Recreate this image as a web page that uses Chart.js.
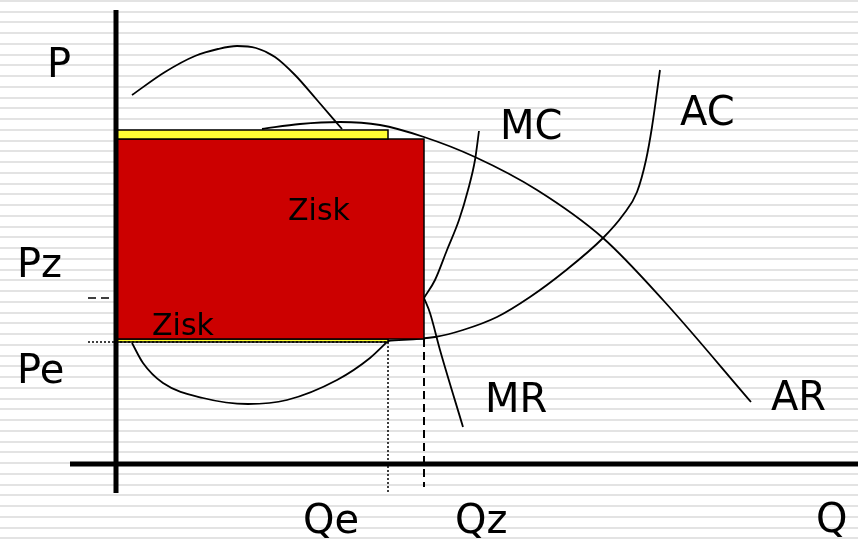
<!DOCTYPE html>
<html>
<head>
<meta charset="utf-8">
<script src="https://cdn.jsdelivr.net/npm/chart.js@4/dist/chart.umd.min.js"></script>
<style>
    body { margin: 0; }
    .board {
        width: 858px;
        height: 539px;
        position: relative;
        background: repeating-linear-gradient(to bottom, #e3e3e3 0px, #e3e3e3 2px, #ffffff 2px, #ffffff 10.75px);
    }
</style>
</head>
<body>
<div class="board"><canvas id="firm-chart"></canvas></div>
<script>
// Quantities and prices (same units on both axes, origin at the axes cross)
const qe = 272;
const qz = 308;
const pe = 122;
const pz = 166;
const redBox = [125, 325];        // Zisk box, bottom and top price
const yellowTop = [325, 334];
const yellowBottom = [122, 125];

// Curves as [Q, P]
const curveAR = [[146, 335], [184, 340], [224, 342], [264, 339], [308, 327], [359, 307], [421, 274],
    [487, 226], [547, 164], [635, 62]];
const curveMC = [[363, 333], [359, 304], [352, 274], [343, 244], [331, 214], [319, 184], [308, 166]];
const curveMR = [[308, 166], [314, 151], [324, 114], [347, 37]];
const curveAC = [[272, 123], [319, 127], [347, 134], [381, 147], [414, 167], [449, 193], [487, 226],
    [507, 249], [521, 272], [530, 304], [536, 337], [544, 394]];
const curveHump = [[16, 369], [49, 392], [79, 408], [102, 415], [121, 418], [140, 416], [159, 407],
    [179, 389], [201, 364], [226, 335]];
const curveBowl = [[16, 121], [27, 101], [47, 81], [87, 66], [132, 60], [171, 64], [221, 84], [254, 106], [273, 124]];

// Text labels: text, Q, P
const bigLabels = [
    ['P', -69, 387], ['MC', 384, 325], ['AC', 564, 339], ['Pz', -99, 187], ['Pe', -99, 81],
    ['MR', 369, 52], ['AR', 655, 54], ['Qe', 187, -69], ['Qz', 339, -69], ['Q', 700, -68]
];
const smallLabels = [['Zisk', 172, 244], ['Zisk', 36, 129]];

function pts(list) {
    return list.map(([x, y]) => ({x: x, y: y}));
}

function curve(list) {
    return {
        data: pts(list),
        borderColor: '#000',
        borderWidth: 1.8,
        pointRadius: 0,
        cubicInterpolationMode: 'monotone',
        fill: false,
        order: 3
    };
}

function box(x0, x1, [y0, y1], color) {
    return {
        data: pts([[x0, y0], [x1, y0], [x1, y1], [x0, y1], [x0, y0]]),
        borderColor: '#000',
        borderWidth: 1.5,
        backgroundColor: color,
        pointRadius: 0,
        tension: 0,
        fill: 'shape',
        order: 2
    };
}

function guide(list, width, dash) {
    return {
        data: pts(list),
        borderColor: '#000',
        borderWidth: width,
        borderDash: dash,
        pointRadius: 0,
        tension: 0,
        fill: false,
        order: 1
    };
}

const textPlugin = {
    id: 'texts',
    afterDatasetsDraw(chart) {
        const c = chart.ctx;
        const sx = chart.scales.x, sy = chart.scales.y;
        c.save();
        c.fillStyle = '#000';
        c.textAlign = 'left';
        c.textBaseline = 'alphabetic';
        c.font = '40px "DejaVu Sans"';
        bigLabels.forEach(([t, x, y]) => c.fillText(t, sx.getPixelForValue(x), sy.getPixelForValue(y)));
        c.font = '30px "DejaVu Sans"';
        smallLabels.forEach(([t, x, y]) => c.fillText(t, sx.getPixelForValue(x), sy.getPixelForValue(y)));
        c.restore();
    }
};

let ctx = document.querySelector('#firm-chart').getContext('2d');

let firmChart = new Chart(ctx, {
    type: 'line',
    data: {
        datasets: [
            // axes
            guide([[0, 454], [0, -29]], 5, []),
            guide([[-46, 0], [742, 0]], 5, []),
            // helper lines
            guide([[-28, pz], [-6, pz]], 1.5, [8, 5]),
            guide([[-28, pe], [qe, pe]], 1.5, [2, 2]),
            guide([[qe, pe], [qe, -29]], 1.5, [2, 2]),
            guide([[qz, redBox[0]], [qz, -23]], 2, [8, 5]),
            // boxes
            box(0, qe, yellowTop, '#ffff33'),
            box(0, qz, redBox, '#cc0000'),
            box(0, qe, yellowBottom, '#ffff33'),
            // curves
            curve(curveHump),
            curve(curveAR),
            curve(curveMC),
            curve(curveMR),
            curve(curveAC),
            curve(curveBowl)
        ]
    },
    options: {
        responsive: true,
        maintainAspectRatio: false,
        animation: false,
        layout: { padding: 0 },
        plugins: {
            legend: { display: false },
            tooltip: { enabled: false }
        },
        events: [],
        scales: {
            x: { type: 'linear', min: -116, max: 742, display: false },
            y: { type: 'linear', min: -75, max: 464, display: false }
        }
    },
    plugins: [textPlugin]
});
</script>
</body>
</html>
